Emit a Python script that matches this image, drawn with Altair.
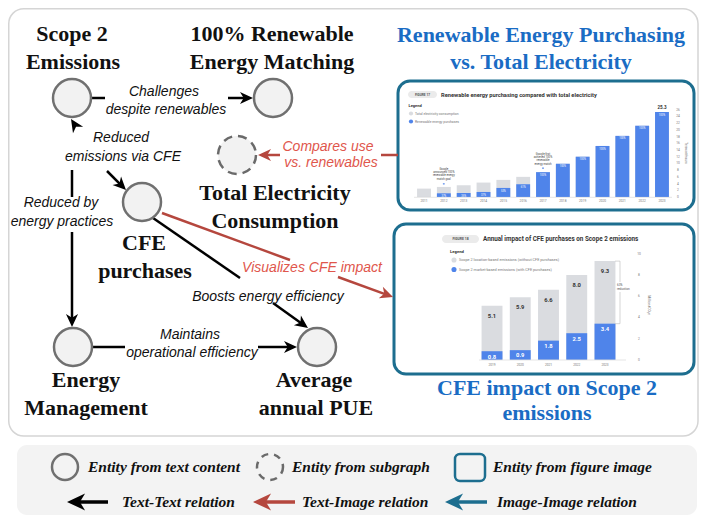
import math
import altair as alt
import pandas as pd

# ============================ DATA ============================
# Entities of the graph
node_titles = [["Scope 2", "Emissions"], ["100% Renewable", "Energy Matching"],
               ["Total Electricity", "Consumption"], ["CFE", "purchases"],
               ["Energy", "Management"], ["Average", "annual PUE"]]
node_kinds = ["text", "text", "subgraph", "text", "text", "text"]
image_titles = [["Renewable Energy Purchasing", "vs. Total Electricity"],
                ["CFE impact on Scope 2", "emissions"]]

# Relation labels
text_rel_labels = [["Challenges", "despite renewables"], ["Reduced", "emissions via CFE"],
                   ["Reduced by", "energy practices"], ["Boosts energy efficiency"],
                   ["Maintains", "operational efficiency"]]
image_rel_labels = [["Compares use", "vs. renewables"], ["Visualizes CFE impact"]]

# Legend
legend_entities = ["Entity from text content", "Entity from subgraph", "Entity from figure image"]
legend_relations = ["Text-Text relation", "Text-Image relation", "Image-Image relation"]

# Figure 17 (image 1)
fig17_tag = "FIGURE 17"
fig17_title = "Renewable energy purchasing compared with total electricity"
fig17_legend = ["Total electricity consumption", "Renewable energy purchases"]
fig17_years = ["2011", "2012", "2013", "2014", "2015", "2016", "2017",
               "2018", "2019", "2020", "2021", "2022", "2023"]
fig17_total = [2.5, 3.0, 3.5, 4.3, 5.1, 6.0, 7.4, 9.9, 12.0, 15.2, 18.2, 21.2, 25.3]
fig17_renew = [0.0, 1.1, 1.2, 1.5, 2.7, 3.8, 7.4, 9.9, 12.0, 15.2, 18.2, 21.2, 25.3]
fig17_share = ["", "37%", "35%", "37%", "53%", "61%", "100%", "100%", "100%",
               "100%", "100%", "100%", "100%"]
fig17_ticks = [0, 2, 4, 6, 8, 10, 12, 14, 16, 18, 20, 22, 24, 26]
fig17_notes = [["Google", "announced 100%", "renewable energy", "match goal"],
               ["Google first", "achieved 100%", "renewable", "energy match"]]
fig17_note_years = ["2012", "2017"]
fig17_unit = "Terawatt-hours"

# Figure 18 (image 2)
fig18_tag = "FIGURE 18"
fig18_title = "Annual impact of CFE purchases on Scope 2 emissions"
fig18_legend = ["Scope 2 location-based emissions (without CFE purchases)",
                "Scope 2 market-based emissions (with CFE purchases)"]
fig18_years = ["2019", "2020", "2021", "2022", "2023"]
fig18_location = [5.1, 5.9, 6.6, 8.0, 9.3]
fig18_market = [0.8, 0.9, 1.8, 2.5, 3.4]
fig18_ticks = [0, 2, 4, 6, 8, 10]
fig18_note = ["63%", "reduction"]
fig18_unit = "Million tCO\u2082e"

# ============================ LAYOUT (page pixels) ============================
W, H, OFF = 691, 508, 8
NODE_XY = [(72, 98), (273, 98), (237, 155), (142, 202), (73, 347), (317, 347)]
NODE_LABEL_XY = [[(72, 33.5), (73, 61.5)], [(272, 33.5), (272, 61.5)],
                 [(275, 193), (275, 221)], [(144, 243), (145, 271)],
                 [(86, 380), (86, 408)], [(314, 380), (316, 408)]]
IMAGE_TITLE_XY = [[(541, 35), (541, 61.5)], [(547, 388), (547, 413)]]
IMAGE_BOX = [(398, 81, 694, 210), (394, 224, 694, 374)]
TEXT_REL_XY = [[(164, 92), (166, 110)], [(121, 138), (123, 157)], [(61, 203), (62, 222)],
               [(268, 297)], [(190, 335), (192, 353)]]
IMAGE_REL_XY = [[(328, 147), (331, 163)], [(312, 268)]]
BLACK_PATHS = [
    [((92, 98), (105, 98)), ((228, 98), (253, 98))],
    [((107, 171), (126, 190))],
    [((72, 170), (72, 197)), ((72, 232), (72, 327))],
    [((153, 218), (240, 278)), ((273, 303), (308, 328))],
    [((93, 347), (125, 347)), ((258, 347), (297, 347))],
]
BLACK_HEAD_ONLY = [((82, 136), (71, 119))]
RED_PATHS = [
    [((398, 155), (381, 155)), ((280, 155), (258, 155))],
    [((162, 213), (290, 260)), ((338, 277), (393, 297))],
]

BLACK = "#000000"
RED = "#b5473e"
RED_TXT = "#e0564c"
TEAL = "#1d6e8f"
BLUE_T = "#1a6cc4"
NODE_FILL = "#f2f2f2"
NODE_STROKE = "#707070"
BAR_GRAY = "#dadce0"
BAR_BLUE = "#4f84ea"
ARROW = "M0,0 L0.65,1.4 L0,1.0 L-0.65,1.4 Z"


def sx():
    return alt.Scale(domain=[OFF, OFF + W], range=[0, W], nice=False, zero=False)


def sy():
    return alt.Scale(domain=[OFF, OFF + H], range=[0, H], nice=False, zero=False)


def XY():
    return dict(x=alt.X("x:Q", scale=sx(), axis=None), y=alt.Y("y:Q", scale=sy(), axis=None))


def rects(rows, **kw):
    df = pd.DataFrame(rows, columns=["x", "y", "x2", "y2"])
    return alt.Chart(df).mark_rect(**kw).encode(
        x=alt.X("x:Q", scale=sx(), axis=None), x2="x2:Q",
        y=alt.Y("y:Q", scale=sy(), axis=None), y2="y2:Q")


def texts(items, **kw):
    df = pd.DataFrame([{"t": t, "x": p[0], "y": p[1]} for t, p in items])
    return alt.Chart(df).mark_text(**kw).encode(text="t:N", **XY())


def segs(rows, color, width, dash=None):
    df = pd.DataFrame(rows, columns=["x", "y", "x2", "y2"])
    kw = dict(color=color, strokeWidth=width, strokeCap="butt")
    if dash:
        kw["strokeDash"] = dash
    return alt.Chart(df).mark_rule(**kw).encode(
        x=alt.X("x:Q", scale=sx(), axis=None), x2="x2:Q",
        y=alt.Y("y:Q", scale=sy(), axis=None), y2="y2:Q")


def heads(rows, color, size):
    df = pd.DataFrame(rows, columns=["x", "y", "ang"])
    return alt.Chart(df).mark_point(shape=ARROW, filled=True, fill=color, color=color,
                                    size=size, opacity=1, strokeWidth=0).encode(
        angle=alt.Angle("ang:Q", scale=None), **XY())


def build_paths(paths, back):
    s, h = [], []
    for path in paths:
        for i, (a, b) in enumerate(path):
            if i == len(path) - 1:
                dx, dy = b[0] - a[0], b[1] - a[1]
                L = math.hypot(dx, dy)
                ux, uy = dx / L, dy / L
                e = (b[0] - ux * back, b[1] - uy * back)
                if L > back:
                    s.append((a[0], a[1], e[0], e[1]))
                h.append((b[0], b[1], math.degrees(math.atan2(ux, -uy)) % 360))
            else:
                s.append((a[0], a[1], b[0], b[1]))
    return s, h


layers = []

# Panels
layers.append(rects([(8.75, 8.75, 698, 436)], fill="white", stroke="#d5d5d5",
                    strokeWidth=1.5, cornerRadius=15))
layers.append(rects([(17, 445, 697, 515)], fill="#f3f3f3", cornerRadius=10))
layers.append(rects(IMAGE_BOX, fill="white", stroke=TEAL, strokeWidth=3, cornerRadius=12))

# ---------------- Figure 17 mini chart ----------------
f17 = pd.DataFrame({"year": fig17_years, "total": fig17_total, "renew": fig17_renew,
                    "share": fig17_share})
f17["top"] = ["" for _ in fig17_years[:-1]] + [str(fig17_total[-1])]
f17_x = lambda: alt.X("year:O", scale=alt.Scale(type="band", domain=fig17_years,
                                                range=[414.1 - OFF, 671.9 - OFF],
                                                paddingInner=0.3, paddingOuter=0.15), axis=None)
f17_sc = lambda: alt.Scale(domain=[0, 26], range=[197 - OFF, 109.7 - OFF], nice=False, zero=False)
layers.append(alt.Chart(f17).mark_bar(color=BAR_GRAY).encode(
    x=f17_x(), y=alt.Y("total:Q", scale=f17_sc(), axis=None)))
layers.append(alt.Chart(f17[f17.renew > 0]).mark_bar(color=BAR_BLUE).encode(
    x=f17_x(), y=alt.Y("renew:Q", scale=f17_sc(), axis=None)))
layers.append(alt.Chart(f17).mark_text(color="white", fontSize=2.6, dy=3, font="Roboto").encode(
    x=f17_x(), y=alt.Y("renew:Q", scale=f17_sc(), axis=None), text="share:N"))
layers.append(alt.Chart(f17).mark_text(color="#333", fontSize=4.5, dy=-4, font="Roboto",
                                       fontWeight="bold").encode(
    x=f17_x(), y=alt.Y("total:Q", scale=f17_sc(), axis=None), text="top:N"))
layers.append(alt.Chart(f17).mark_text(color="#777", fontSize=3.2, font="Roboto").encode(
    x=f17_x(), y=alt.value(200.5 - OFF), text="year:N"))
layers.append(alt.Chart(pd.DataFrame({"v": fig17_ticks})).mark_text(
    color="#777", fontSize=3.2, font="Roboto").encode(
    x=alt.value(678 - OFF), y=alt.Y("v:Q", scale=f17_sc(), axis=None), text="v:N"))
layers.append(segs([(414, 197.3, 672, 197.3)], "#c8c8c8", 0.5))
note_items = []
for lines, yr, base in zip(fig17_notes, fig17_note_years, [168.2, 153.3]):
    cx = 424 + fig17_years.index(yr) * 19.83
    for k, t in enumerate(lines):
        note_items.append((t, (cx, base + k * 3.3)))
layers.append(texts(note_items, fontSize=2.8, color="#444", font="Roboto"))
layers.append(rects([(442.8, 183.2, 444.8, 184.4), (542.0, 167.5, 544.0, 168.7)],
                    fill=BAR_BLUE, cornerRadius=0.5))
layers.append(rects([(408, 91, 437, 98)], fill="#ebebeb", cornerRadius=3.5))
layers.append(texts([(fig17_tag, (422.5, 94.6))], fontSize=3.2, color="#555",
                    font="Roboto", fontWeight="bold"))
layers.append(texts([(fig17_title, (441, 94.6))], fontSize=5.7, color="#333", font="Roboto",
                    fontWeight="bold", align="left"))
layers.append(texts([("Legend", (408.5, 105.5))], fontSize=4, color="#333", font="Roboto",
                    fontWeight="bold", align="left"))
layers.append(texts([(fig17_legend[0], (415, 113.5)), (fig17_legend[1], (415, 121.5))],
                    fontSize=3.4, color="#777", font="Roboto", align="left"))
layers.append(alt.Chart(pd.DataFrame({"x": [411, 411], "y": [113.5, 121.5],
                                      "c": [BAR_GRAY, BAR_BLUE]})).mark_circle(
    size=18, opacity=1).encode(color=alt.Color("c:N", scale=None), **XY()))
layers.append(texts([(fig17_unit, (686, 153))], fontSize=3.2, color="#666", font="Roboto",
                    angle=90))

# ---------------- Figure 18 mini chart ----------------
f18 = pd.DataFrame({"year": fig18_years, "loc": fig18_location, "mkt": fig18_market})
f18["loc_t"] = [f"{v:.1f}" for v in fig18_location]
f18["mkt_t"] = [f"{v:.1f}" for v in fig18_market]
f18_x = lambda: alt.X("year:O", scale=alt.Scale(type="band", domain=fig18_years,
                                                range=[477.9 - OFF, 619.1 - OFF],
                                                paddingInner=0.26, paddingOuter=0.13), axis=None)
f18_sc = lambda: alt.Scale(domain=[0, 10], range=[359.7 - OFF, 253.7 - OFF], nice=False, zero=False)
layers.append(alt.Chart(f18).mark_bar(color=BAR_GRAY).encode(
    x=f18_x(), y=alt.Y("loc:Q", scale=f18_sc(), axis=None)))
layers.append(alt.Chart(f18).mark_bar(color=BAR_BLUE).encode(
    x=f18_x(), y=alt.Y("mkt:Q", scale=f18_sc(), axis=None)))
layers.append(alt.Chart(f18).mark_text(color="#333", fontSize=5.8, dy=10, font="Roboto",
                                       fontWeight="bold").encode(
    x=f18_x(), y=alt.Y("loc:Q", scale=f18_sc(), axis=None), text="loc_t:N"))
layers.append(alt.Chart(f18).mark_text(color="white", fontSize=5.8, dy=5.3, font="Roboto",
                                       fontWeight="bold").encode(
    x=f18_x(), y=alt.Y("mkt:Q", scale=f18_sc(), axis=None), text="mkt_t:N"))
layers.append(alt.Chart(f18).mark_text(color="#777", fontSize=3.2, font="Roboto").encode(
    x=f18_x(), y=alt.value(365 - OFF), text="year:N"))
layers.append(alt.Chart(pd.DataFrame({"v": fig18_ticks})).mark_text(
    color="#777", fontSize=3.2, font="Roboto").encode(
    x=alt.value(639 - OFF), y=alt.Y("v:Q", scale=f18_sc(), axis=None), text="v:N"))
layers.append(segs([(479, 360, 626, 360)], "#c8c8c8", 0.5))
br = pd.DataFrame({"a": [fig18_location[-1]], "b": [fig18_market[-1]]})
layers.append(alt.Chart(br).mark_rule(color="#bbbbbb", strokeWidth=0.6).encode(
    x=alt.value(620 - OFF), y=alt.Y("a:Q", scale=f18_sc(), axis=None), y2="b:Q"))
layers.append(alt.Chart(br).mark_rule(color="#bbbbbb", strokeWidth=0.6).encode(
    x=alt.value(615 - OFF), x2=alt.value(620 - OFF), y=alt.Y("a:Q", scale=f18_sc(), axis=None)))
layers.append(alt.Chart(br).mark_rule(color="#bbbbbb", strokeWidth=0.6).encode(
    x=alt.value(615 - OFF), x2=alt.value(620 - OFF), y=alt.Y("b:Q", scale=f18_sc(), axis=None)))
layers.append(rects([(619, 282, 628, 292)], fill="white"))
layers.append(texts([(fig18_note[0], (617, 285)), (fig18_note[1], (617, 289))],
                    fontSize=3, color="#555", font="Roboto", align="left"))
layers.append(rects([(442, 235, 479, 243)], fill="#ebebeb", cornerRadius=4))
layers.append(texts([(fig18_tag, (460.5, 239.2))], fontSize=3.4, color="#555",
                    font="Roboto", fontWeight="bold"))
layers.append(texts([(fig18_title, (483, 239.2))], fontSize=6.3, color="#333", font="Roboto",
                    fontWeight="bold", align="left"))
layers.append(texts([("Legend", (450, 252))], fontSize=4.2, color="#333", font="Roboto",
                    fontWeight="bold", align="left"))
layers.append(texts([(fig18_legend[0], (459, 260)), (fig18_legend[1], (459, 269.5))],
                    fontSize=3.8, color="#777", font="Roboto", align="left"))
layers.append(alt.Chart(pd.DataFrame({"x": [454, 454], "y": [260, 269.5],
                                      "c": [BAR_GRAY, BAR_BLUE]})).mark_circle(
    size=26, opacity=1).encode(color=alt.Color("c:N", scale=None), **XY()))
layers.append(texts([(fig18_unit, (649, 305))], fontSize=3.4, color="#666", font="Roboto",
                    angle=90))

# ---------------- Edges ----------------
bs, bh = build_paths(BLACK_PATHS, 7)
_, bh2 = build_paths([[p] for p in BLACK_HEAD_ONLY], 99)
rs, rh = build_paths(RED_PATHS, 7)
layers.append(segs(bs, BLACK, 2.5))
layers.append(segs(rs, RED, 2.5))
layers.append(heads(bh + bh2, BLACK, 346))
layers.append(heads(rh, RED, 346))

# ---------------- Nodes ----------------
ndf = pd.DataFrame({"x": [p[0] for p in NODE_XY], "y": [p[1] for p in NODE_XY], "k": node_kinds})
layers.append(alt.Chart(ndf[ndf.k == "text"]).mark_point(
    shape="circle", size=1444, filled=True, fill=NODE_FILL, stroke=NODE_STROKE,
    strokeWidth=2.5, opacity=1).encode(**XY()))
layers.append(alt.Chart(ndf[ndf.k == "subgraph"]).mark_point(
    shape="circle", size=1444, filled=True, fill=NODE_FILL, stroke="#6a6a6a",
    strokeWidth=2.5, strokeDash=[9, 6], opacity=1).encode(**XY()))

# ---------------- Labels ----------------
serif = "Liberation Serif"
sans = "Liberation Sans"
items = [(t, p) for lines, pos in zip(node_titles, NODE_LABEL_XY) for t, p in zip(lines, pos)]
layers.append(texts(items, font=serif, fontWeight="bold", fontSize=22, color="#111"))
items = [(t, p) for lines, pos in zip(image_titles, IMAGE_TITLE_XY) for t, p in zip(lines, pos)]
layers.append(texts(items, font=serif, fontWeight="bold", fontSize=22, color=BLUE_T))
items = [(t, p) for lines, pos in zip(text_rel_labels, TEXT_REL_XY) for t, p in zip(lines, pos)]
layers.append(texts(items, font=sans, fontStyle="italic", fontSize=14, color="#111"))
items = [(t, p) for lines, pos in zip(image_rel_labels, IMAGE_REL_XY) for t, p in zip(lines, pos)]
layers.append(texts(items, font=sans, fontStyle="italic", fontSize=14, color=RED_TXT))

# ---------------- Legend ----------------
layers.append(alt.Chart(pd.DataFrame({"x": [65], "y": [467]})).mark_point(
    shape="circle", size=676, filled=False, stroke=NODE_STROKE, strokeWidth=2.5,
    opacity=1).encode(**XY()))
layers.append(alt.Chart(pd.DataFrame({"x": [270], "y": [467]})).mark_point(
    shape="circle", size=676, filled=False, stroke="#6a6a6a", strokeWidth=2.5,
    strokeDash=[7, 6], opacity=1).encode(**XY()))
layers.append(rects([(455, 454, 485, 481)], fillOpacity=0, stroke=TEAL, strokeWidth=2.5,
                    cornerRadius=5))
for (tip, tail), col in zip([((67, 502), (108, 502)), ((253, 502), (295, 502)),
                             ((445, 502), (487, 502))], [BLACK, RED, TEAL]):
    s_, h_ = build_paths([[(tail, tip)]], 10)
    layers.append(segs(s_, col, 3.5))
    layers.append(heads(h_, col, 666))
layers.append(texts(list(zip(legend_entities, [(88, 467), (292, 467), (493, 467)])),
                    font=serif, fontWeight="bold", fontStyle="italic", fontSize=15.5,
                    color="#111", align="left"))
layers.append(texts(list(zip(legend_relations, [(122, 502), (302, 502), (497, 502)])),
                    font=serif, fontWeight="bold", fontStyle="italic", fontSize=15.5,
                    color="#111", align="left"))

chart = alt.layer(*layers).resolve_scale(x="independent", y="independent").properties(
    width=W, height=H, padding=0,
    autosize=alt.AutoSizeParams(type="fit", contains="padding"),
    background="white",
).configure_view(stroke=None)

chart.save("out.html", embed_options={"renderer": "svg", "actions": False})
